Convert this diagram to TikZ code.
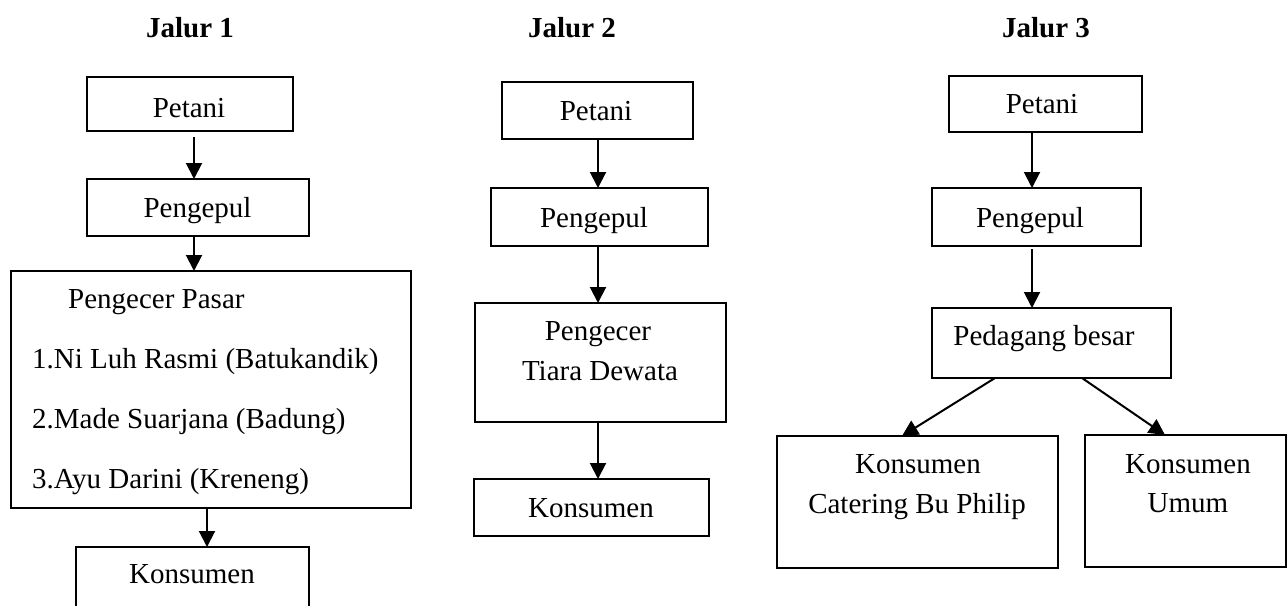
\documentclass[tikz,border=0pt]{standalone}
\usepackage{fontspec}
\setmainfont{Liberation Serif}
\usetikzlibrary{arrows.meta}
\begin{document}
\begin{tikzpicture}[x=1pt,y=-1pt,
  box/.style={draw,line width=2pt,inner sep=0pt,outer sep=0pt},
  txt/.style={inner sep=0pt,anchor=base,font=\fontsize{29}{34}\selectfont},
  ltxt/.style={txt,anchor=base west},
  ttl/.style={inner sep=0pt,anchor=base,font=\fontsize{29}{34}\selectfont\bfseries},
  arr/.style={line width=2pt,-{Triangle[length=16pt,width=16pt]}}]
\useasboundingbox (0,0) rectangle (1287,605);
% titles
\node[ttl] (t1) at (190,37) {Jalur 1};
\node[ttl] (t2) at (572,37) {Jalur 2};
\node[ttl] (t3) at (1046,37) {Jalur 3};
% ---------- Jalur 1 ----------
\node[box,minimum width=206pt,minimum height=54pt] (p1) at (190,104) {};
\node[box,minimum width=222pt,minimum height=57pt] (g1) at (198,207.5) {};
\node[box,minimum width=400pt,minimum height=237pt] (r1) at (211,389.5) {};
\node[box,minimum width=233pt,minimum height=70pt] (k1) at (192.5,582) {};
\node[txt] (p1t) at (189,117) {Petani};
\node[txt] (g1t) at (197.5,217) {Pengepul};
\node[ltxt] (r1a) at (68,308) {Pengecer Pasar};
\node[ltxt] (r1b) at (32,368) {1.Ni Luh Rasmi (Batukandik)};
\node[ltxt] (r1c) at (32,428) {2.Made Suarjana (Badung)};
\node[ltxt] (r1d) at (32,488) {3.Ayu Darini (Kreneng)};
\node[txt] (k1t) at (192,583) {Konsumen};
\coordinate (a1) at (194,0);
\coordinate (a1b) at (207,0);
\draw[arr] ([yshift=-6pt]p1.south -| a1) -- (g1.north -| a1);
\draw[arr] (g1.south -| a1) -- (r1.north -| a1);
\draw[arr] (r1.south -| a1b) -- (k1.north -| a1b);
% ---------- Jalur 2 ----------
\node[box,minimum width=191pt,minimum height=57pt] (p2) at (597.5,110.5) {};
\node[box,minimum width=217pt,minimum height=58pt] (g2) at (599.5,217) {};
\node[box,minimum width=251pt,minimum height=119pt] (r2) at (600.5,362.5) {};
\node[box,minimum width=235pt,minimum height=57pt] (k2) at (591.5,507.5) {};
\node[txt] (p2t) at (596,120) {Petani};
\node[txt] (g2t) at (594,227) {Pengepul};
\node[txt] (r2a) at (598,340) {Pengecer};
\node[txt] (r2b) at (600,380) {Tiara Dewata};
\node[txt] (k2t) at (591,517) {Konsumen};
\coordinate (a2) at (598,0);
\draw[arr] (p2.south -| a2) -- (g2.north -| a2);
\draw[arr] (g2.south -| a2) -- (r2.north -| a2);
\draw[arr] (r2.south -| a2) -- (k2.north -| a2);
% ---------- Jalur 3 ----------
\node[box,minimum width=193pt,minimum height=56pt] (p3) at (1045.5,104) {};
\node[box,minimum width=209pt,minimum height=58pt] (g3) at (1036.5,217) {};
\node[box,minimum width=239pt,minimum height=70pt] (d3) at (1051.5,343) {};
\node[box,minimum width=281pt,minimum height=132pt] (c3) at (917.5,502) {};
\node[box,minimum width=201pt,minimum height=132pt] (u3) at (1185.5,501) {};
\node[txt] (p3t) at (1042,113) {Petani};
\node[txt] (g3t) at (1030,227) {Pengepul};
\node[txt] (d3t) at (1044,345) {Pedagang besar};
\node[txt] (c3a) at (918,473) {Konsumen};
\node[txt] (c3b) at (917,513) {Catering Bu Philip};
\node[txt] (u3a) at (1188,473) {Konsumen};
\node[txt] (u3b) at (1188,512) {Umum};
\coordinate (a3) at (1032,0);
\draw[arr] (p3.south -| a3) -- (g3.north -| a3);
\draw[arr] ([yshift=-3pt]g3.south -| a3) -- (d3.north -| a3);
\coordinate (dl) at (995,0);
\coordinate (dr) at (1082,0);
\coordinate (cl) at (902,0);
\coordinate (ur) at (1165,0);
\draw[arr] (d3.south -| dl) -- (c3.north -| cl);
\draw[arr] (d3.south -| dr) -- (u3.north -| ur);
\end{tikzpicture}
\end{document}
